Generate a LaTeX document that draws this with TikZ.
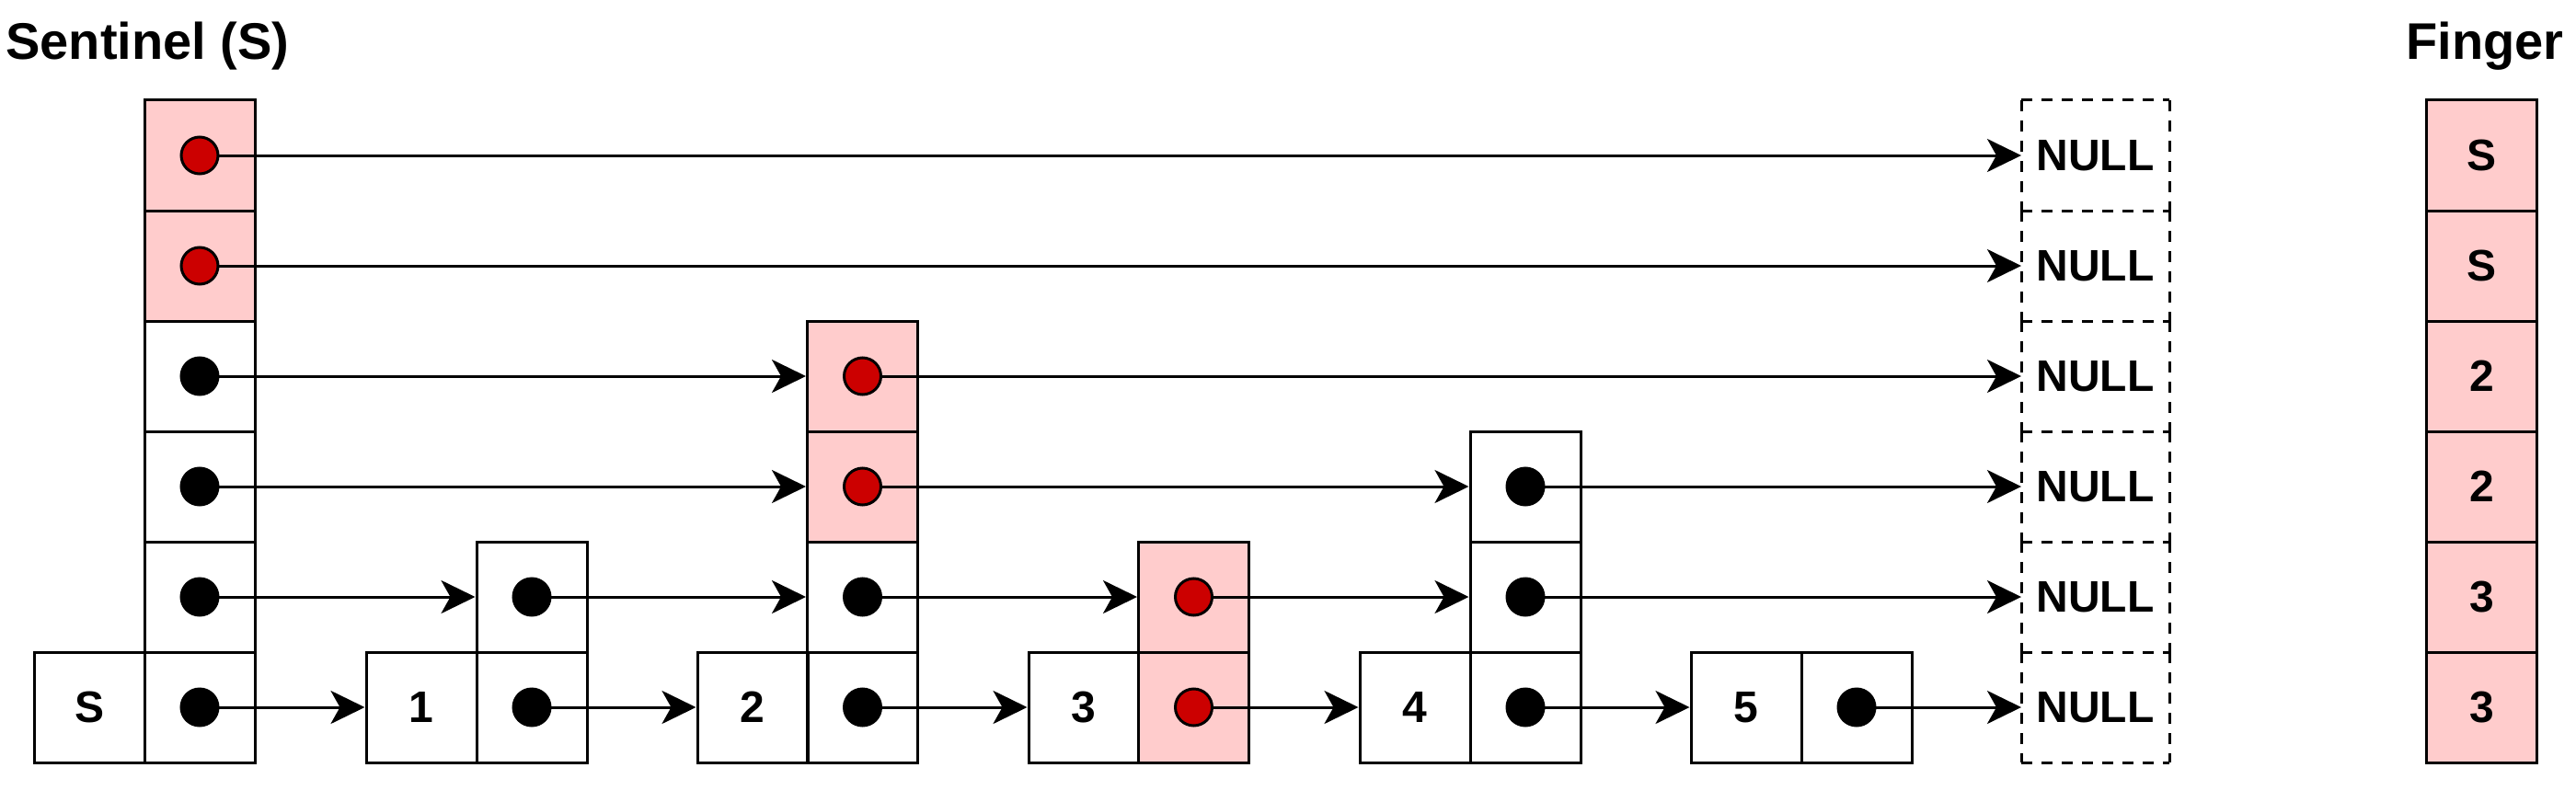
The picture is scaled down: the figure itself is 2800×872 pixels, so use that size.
\documentclass[tikz,border=0pt]{standalone}
\usepackage{fontspec}
\setmainfont{Liberation Sans}
\usetikzlibrary{arrows.meta}
\definecolor{pinkfill}{HTML}{FFCCCC}
\definecolor{reddot}{HTML}{CC0000}
\begin{document}
\begin{tikzpicture}[x=0.5pt,y=-0.5pt,
  cell/.style={draw=black, line width=1.5pt, minimum width=60pt, minimum height=60pt, inner sep=0pt,
               font=\bfseries\fontsize{24pt}{28pt}\selectfont},
  pinkcell/.style={cell, fill=pinkfill},
  nullbox/.style={minimum width=80.5pt, minimum height=60pt, inner sep=0pt, outer sep=0pt,
               font=\bfseries\fontsize{24pt}{28pt}\selectfont},
  nulledge/.style={line width=1.5pt, dash pattern=on 6pt off 5pt},
  ptr/.style={circle, draw=black, line width=1.5pt, fill=black, minimum size=20pt, inner sep=0pt},
  rptr/.style={ptr, fill=reddot},
  link/.style={line width=1.5pt, -{Stealth[length=18.5pt,width=18pt,inset=5pt]}},
  title/.style={font=\bfseries\fontsize{28pt}{34pt}\selectfont, inner sep=0pt}]
\useasboundingbox (0,0) rectangle (2800,872);

% titles
\node[title, anchor=base west] (tsent) at (6,65) {Sentinel (S)};
\node[title, anchor=base] (tfing) at (2701,65) {Finger};

% sentinel
\node[cell] (sk) at (97.5,769) {S};
\node[pinkcell] (s1) at (217,169) {};
\node[pinkcell] (s2) at (217,289) {};
\node[cell] (s3) at (217,409) {};
\node[cell] (s4) at (217,529) {};
\node[cell] (s5) at (217,649) {};
\node[cell] (s6) at (217,769) {};

% node 1
\node[cell] (ak) at (458,769) {1};
\node[cell] (a5) at (578,649) {};
\node[cell] (a6) at (578,769) {};

% node 2
\node[cell] (bk) at (818,769) {2};
\node[pinkcell] (b3) at (937.5,409) {};
\node[pinkcell] (b4) at (937.5,529) {};
\node[cell] (b5) at (937.5,649) {};
\node[cell] (b6) at (937.5,769) {};

% node 3
\node[cell] (ck) at (1178,769) {3};
\node[pinkcell] (c5) at (1297.5,649) {};
\node[pinkcell] (c6) at (1297.5,769) {};

% node 4
\node[cell] (dk) at (1538,769) {4};
\node[cell] (d4) at (1658,529) {};
\node[cell] (d5) at (1658,649) {};
\node[cell] (d6) at (1658,769) {};

% node 5
\node[cell] (ek) at (1898,769) {5};
\node[cell] (e6) at (2018,769) {};

% NULL boxes
\node[nullbox] (n1) at (2277.5,169) {NULL};
\node[nullbox] (n2) at (2277.5,289) {NULL};
\node[nullbox] (n3) at (2277.5,409) {NULL};
\node[nullbox] (n4) at (2277.5,529) {NULL};
\node[nullbox] (n5) at (2277.5,649) {NULL};
\node[nullbox] (n6) at (2277.5,769) {NULL};
\foreach \b in {n1,n2,n3,n4,n5,n6}{
  \draw[nulledge] (\b.north west) -- (\b.north east);
  \draw[nulledge] (\b.north west) -- (\b.south west);
  \draw[nulledge] (\b.north east) -- (\b.south east);
}
\draw[nulledge] (n6.south west) -- (n6.south east);

% finger
\node[pinkcell] (f1) at (2697.5,169) {S};
\node[pinkcell] (f2) at (2697.5,289) {S};
\node[pinkcell] (f3) at (2697.5,409) {2};
\node[pinkcell] (f4) at (2697.5,529) {2};
\node[pinkcell] (f5) at (2697.5,649) {3};
\node[pinkcell] (f6) at (2697.5,769) {3};

% links
\draw[link] (s1.center) -- (n1.west);
\draw[link] (s2.center) -- (n2.west);
\draw[link] (s3.center) -- (b3.west);
\draw[link] (b3.center) -- (n3.west);
\draw[link] (s4.center) -- (b4.west);
\draw[link] (b4.center) -- (d4.west);
\draw[link] (d4.center) -- (n4.west);
\draw[link] (s5.center) -- (a5.west);
\draw[link] (a5.center) -- (b5.west);
\draw[link] (b5.center) -- (c5.west);
\draw[link] (c5.center) -- (d5.west);
\draw[link] (d5.center) -- (n5.west);
\draw[link] (s6.center) -- (ak.west);
\draw[link] (a6.center) -- (bk.west);
\draw[link] (b6.center) -- (ck.west);
\draw[link] (c6.center) -- (dk.west);
\draw[link] (d6.center) -- (ek.west);
\draw[link] (e6.center) -- (n6.west);

% pointer dots
\node[rptr] (ps1) at (s1.center) {};
\node[rptr] (ps2) at (s2.center) {};
\node[ptr] (ps3) at (s3.center) {};
\node[ptr] (ps4) at (s4.center) {};
\node[ptr] (ps5) at (s5.center) {};
\node[ptr] (ps6) at (s6.center) {};
\node[ptr] (pa5) at (a5.center) {};
\node[ptr] (pa6) at (a6.center) {};
\node[rptr] (pb3) at (b3.center) {};
\node[rptr] (pb4) at (b4.center) {};
\node[ptr] (pb5) at (b5.center) {};
\node[ptr] (pb6) at (b6.center) {};
\node[rptr] (pc5) at (c5.center) {};
\node[rptr] (pc6) at (c6.center) {};
\node[ptr] (pd4) at (d4.center) {};
\node[ptr] (pd5) at (d5.center) {};
\node[ptr] (pd6) at (d6.center) {};
\node[ptr] (pe6) at (e6.center) {};
\end{tikzpicture}
\end{document}
